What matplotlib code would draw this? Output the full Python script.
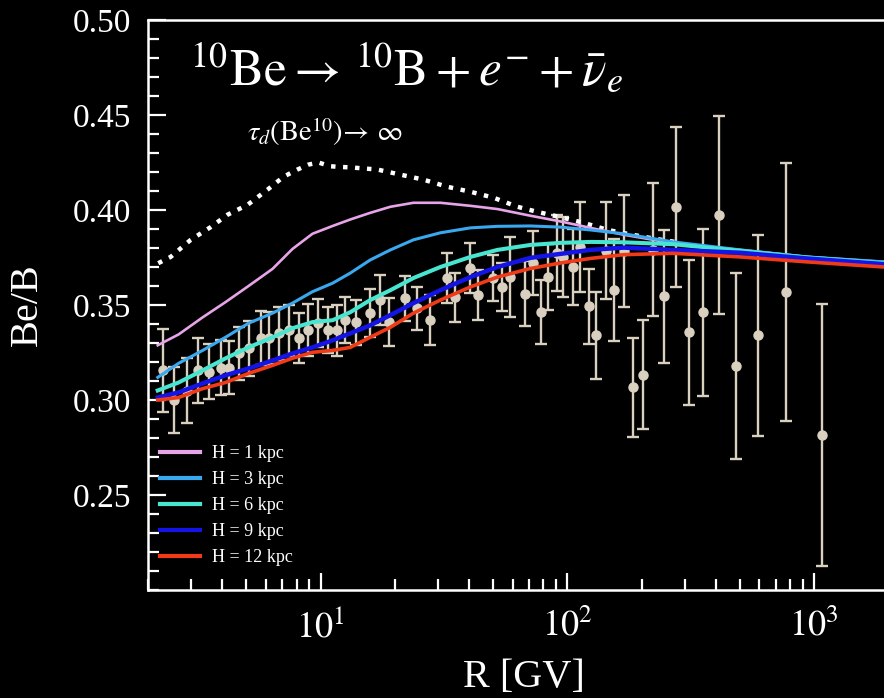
import numpy as np
import matplotlib
matplotlib.use("Agg")
import matplotlib.pyplot as plt
from matplotlib.ticker import LogLocator, MultipleLocator, FixedLocator

plt.rcParams['font.family'] = ['Liberation Serif', 'DejaVu Serif']
plt.rcParams['mathtext.fontset'] = 'stix'

# ---------------- data ----------------
R_model = [2.19, 2.66, 3.33, 4.12, 5.11, 6.39, 7.70, 9.28, 11.2, 13.2, 15.9, 19.2,
           23.8, 30.6, 40.5, 52.1, 70.8, 93.7, 124, 169, 269, 502, 937, 1920]
H1 = [0.3288, 0.3345, 0.3435, 0.3515, 0.3600, 0.3690, 0.3795, 0.3875, 0.3916, 0.3950,
      0.3985, 0.4017, 0.4038, 0.4038, 0.4022, 0.4005, 0.3970, 0.3940, 0.3906, 0.3870,
      0.3825, 0.3790, 0.3753, 0.3727]
H3 = [0.3119, 0.3193, 0.3261, 0.3330, 0.3404, 0.3457, 0.3510, 0.3570, 0.3615, 0.3668,
      0.3737, 0.3790, 0.3843, 0.3880, 0.3906, 0.3914, 0.3916, 0.3910, 0.3895, 0.3875,
      0.3832, 0.3790, 0.3753, 0.3727]
H6 = [0.3050, 0.3092, 0.3156, 0.3219, 0.3277, 0.3330, 0.3378, 0.3410, 0.3420, 0.3462,
      0.3526, 0.3578, 0.3642, 0.3700, 0.3753, 0.3790, 0.3816, 0.3827, 0.3832, 0.3830,
      0.3820, 0.3785, 0.3750, 0.3720]
H9 = [0.3013, 0.3040, 0.3087, 0.3130, 0.3166, 0.3208, 0.3245, 0.3277, 0.3314, 0.3351,
      0.3393, 0.3447, 0.3510, 0.3578, 0.3647, 0.3700, 0.3748, 0.3769, 0.3790, 0.3802,
      0.3790, 0.3775, 0.3745, 0.3715]
H12 = [0.3000, 0.3013, 0.3060, 0.3092, 0.3140, 0.3182, 0.3220, 0.3251, 0.3261, 0.3277,
       0.3330, 0.3383, 0.3457, 0.3526, 0.3595, 0.3647, 0.3692, 0.3721, 0.3745, 0.3765,
       0.3772, 0.3753, 0.3727, 0.3700]

R_inf = [2.2, 2.47, 2.98, 3.59, 4.2, 5.06, 6.1, 7.08, 8.07, 8.94, 9.81, 10.98, 13.6,
         17.0, 21.1, 26.1, 32.7, 40.5, 50.2, 62.8, 75.7, 95.4, 116, 146, 183, 223, 280]
bb_inf = [0.372, 0.3753, 0.3843, 0.391, 0.3975, 0.4027, 0.4107, 0.4175, 0.4213, 0.4239,
          0.425, 0.423, 0.4223, 0.4213, 0.4186, 0.416, 0.4122, 0.4096, 0.4065, 0.4017,
          0.399, 0.396, 0.3933, 0.3895, 0.387, 0.385, 0.383]

R_data = [2.29, 2.54, 2.89, 3.18, 3.52, 3.94, 4.24, 4.66, 5.11, 5.72, 6.16, 6.76, 7.42,
          8.15, 8.94, 9.81, 10.7, 11.7, 12.6, 13.9, 15.9, 17.5, 18.9, 22.1, 24.7, 27.9,
          32.7, 35.2, 40.5, 43.6, 50.2, 54.6, 58.8, 67.6, 72.8, 78.5, 83.8, 91.1, 96.3,
          105, 113, 122, 131, 143, 154, 169, 185, 203, 223, 247, 276, 312, 355, 412, 483,
          593, 771, 1077]
bb_data = [0.3156, 0.300, 0.305, 0.3156, 0.315, 0.317, 0.3171, 0.3245, 0.3272, 0.3325,
           0.3325, 0.3351, 0.3367, 0.3325, 0.3367, 0.3404, 0.3367, 0.3367, 0.3420, 0.3409,
           0.3457, 0.3526, 0.3409, 0.3536, 0.3483, 0.3420, 0.3642, 0.3541, 0.3695, 0.3552,
           0.3642, 0.3595, 0.3647, 0.3560, 0.3721, 0.3462, 0.3647, 0.3774, 0.3753, 0.3700,
           0.3806, 0.3494, 0.3341, 0.3785, 0.3578, 0.3785, 0.3066, 0.3134, 0.3790, 0.3547,
           0.4017, 0.3356, 0.3462, 0.3975, 0.3177, 0.3340, 0.3568, 0.2817]
bb_err = [0.0217, 0.0175, 0.0172, 0.017, 0.0145, 0.0146, 0.014, 0.014, 0.0145, 0.0143,
          0.0138, 0.0138, 0.0133, 0.0132, 0.0138, 0.0127, 0.0122, 0.0133, 0.0122, 0.0119,
          0.0125, 0.0133, 0.0127, 0.0119, 0.0114, 0.0133, 0.0132, 0.013, 0.0132, 0.0132,
          0.0119, 0.0124, 0.021, 0.017, 0.0167, 0.0167, 0.0172, 0.020, 0.021, 0.020,
          0.0238, 0.0198, 0.0228, 0.0256, 0.027, 0.0293, 0.0262, 0.0286, 0.035, 0.035,
          0.042, 0.038, 0.044, 0.052, 0.049, 0.053, 0.068, 0.069]

labels = ['H = 1 kpc', 'H = 3 kpc', 'H = 6 kpc', 'H = 9 kpc', 'H = 12 kpc']
colors = ['#e8a4e8', '#3aa8ee', '#48e6d0', '#1414e6', '#f03a18']
widths = [1.9, 2.2, 2.9, 3.2, 2.6]

# ---------------- figure ----------------
W, Hh = 884, 698
fig = plt.figure(figsize=(W / 100, Hh / 100), dpi=100, facecolor='black')
ax = fig.add_axes([148 / W, 1 - 590 / Hh, 1 - 148 / W, (590 - 20) / Hh])
ax.set_facecolor('black')

ax.errorbar(R_data, bb_data, yerr=bb_err, fmt='o', color='#d9d0bf', ms=6.5,
            elinewidth=1.7, capsize=4.5, capthick=1.7, zorder=2)

ax.plot(R_inf, bb_inf, color='white', lw=3.2, linestyle=(0, (1, 1.7)), zorder=3)

for y, c, lw, lab in zip([H1, H3, H6, H9, H12], colors, widths, labels):
    ax.plot(R_model, y, color=c, lw=lw, label=lab, zorder=4)

ax.set_xscale('log')
ax.set_xlim(2.0, 1920)
ax.set_ylim(0.20, 0.50)

for s in ['left', 'bottom', 'top']:
    ax.spines[s].set_color('white')
    ax.spines[s].set_linewidth(1.8)
ax.spines['right'].set_visible(False)

ax.xaxis.set_major_locator(FixedLocator([10, 100, 1000]))
ax.xaxis.set_minor_locator(LogLocator(base=10, subs=np.arange(2, 10)))
ax.yaxis.set_major_locator(MultipleLocator(0.05))
ax.yaxis.set_minor_locator(MultipleLocator(0.01))
ax.set_yticks([0.25, 0.30, 0.35, 0.40, 0.45, 0.50])
ax.set_yticklabels(['0.25', '0.30', '0.35', '0.40', '0.45', '0.50'])
ax.set_xticklabels([r'$10^1$', r'$10^2$', r'$10^3$'])

ax.tick_params(which='both', direction='in', colors='white', top=False, right=False)
ax.tick_params(axis='y', which='major', length=13, width=1.6, labelsize=24, pad=12)
ax.tick_params(axis='y', which='minor', length=8, width=1.6)
ax.tick_params(axis='x', which='major', length=12, width=1.6, labelsize=26, pad=14)
ax.tick_params(axis='x', which='minor', length=8, width=1.6)

fig.text(27 / W, 1 - 305 / Hh, 'Be/B', rotation=90, color='white', fontsize=29,
         ha='center', va='center')
fig.text(524 / W, 1 - 678 / Hh, 'R [GV]', color='white', fontsize=29,
         ha='center', va='center')

fig.text(190 / W, 1 - 85 / Hh,
         r'$^{10}\mathrm{Be}\rightarrow\,^{10}\mathrm{B}+e^{-}+\bar{\nu}_{e}$',
         color='white', fontsize=37, ha='left', va='baseline')
fig.text(247 / W, 1 - 141 / Hh, r'$\tau_d(\mathrm{Be}^{10})\!\rightarrow\,\infty$',
         color='white', fontsize=20.5, ha='left', va='baseline')

leg = fig.legend(loc='upper left', bbox_to_anchor=(160 / W, 1 - 445 / Hh),
                 frameon=False, fontsize=13, labelcolor='white', handlelength=2.2,
                 handletextpad=0.7, labelspacing=0.5, borderpad=0, borderaxespad=0)
for h in leg.get_lines():
    h.set_linewidth(3.0)

fig.savefig('out.png', dpi=100, facecolor='black')
